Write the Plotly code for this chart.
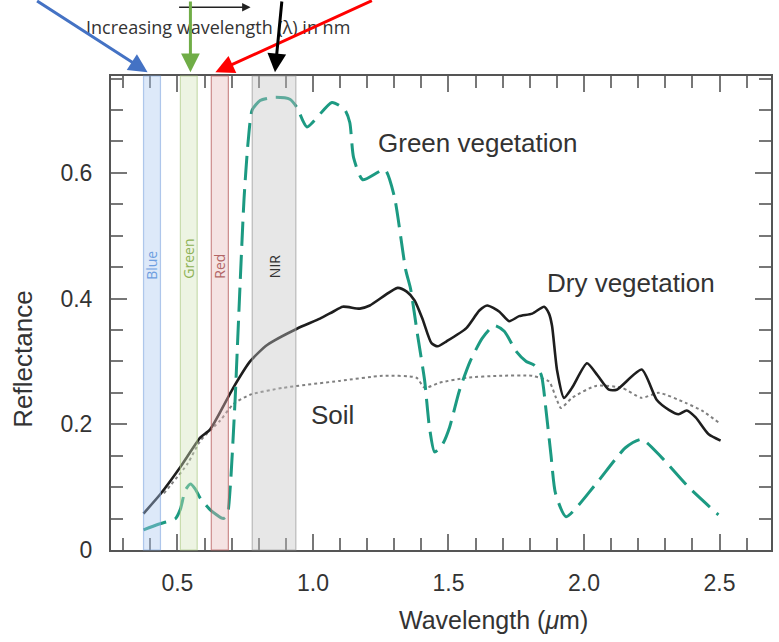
import plotly.graph_objects as go

# ---- data ----
green_x = [0.375, 0.430, 0.493, 0.511, 0.529, 0.548, 0.566, 0.585, 0.621, 0.669, 0.684,
           0.695, 0.713, 0.721, 0.732, 0.746, 0.761, 0.776, 0.805, 0.860, 0.915, 0.941,
           0.978, 1.070, 1.118, 1.136, 1.150, 1.184, 1.265, 1.300, 1.342, 1.360, 1.386,
           1.412, 1.430, 1.449, 1.478, 1.504, 1.540, 1.580, 1.625, 1.669, 1.706, 1.750,
           1.787, 1.816, 1.842, 1.860, 1.878, 1.895, 1.934, 2.044, 2.154, 2.213, 2.287,
           2.386, 2.496]
green_y = [0.032, 0.041, 0.050, 0.065, 0.095, 0.105, 0.097, 0.082, 0.064, 0.050, 0.056,
           0.100, 0.240, 0.320, 0.430, 0.560, 0.650, 0.700, 0.715, 0.720, 0.717, 0.704,
           0.673, 0.712, 0.700, 0.680, 0.624, 0.589, 0.605, 0.563, 0.446, 0.416, 0.342,
           0.270, 0.195, 0.156, 0.168, 0.195, 0.253, 0.300, 0.337, 0.357, 0.348, 0.316,
           0.300, 0.294, 0.279, 0.222, 0.152, 0.090, 0.053, 0.105, 0.163, 0.176, 0.147,
           0.100, 0.056]

dry_x = [0.375, 0.4375, 0.511, 0.585, 0.621, 0.706, 0.768, 0.831, 0.941, 1.026, 1.074,
         1.110, 1.173, 1.210, 1.3125, 1.346, 1.375, 1.404, 1.4375, 1.460, 1.493, 1.566,
         1.614, 1.643, 1.688, 1.724, 1.761, 1.809, 1.853, 1.871, 1.882, 1.901, 1.926,
         1.956, 2.011, 2.048, 2.092, 2.121, 2.213, 2.268, 2.313, 2.349, 2.379, 2.412,
         2.460, 2.504]
dry_y = [0.058, 0.089, 0.132, 0.179, 0.192, 0.258, 0.300, 0.326, 0.352, 0.368, 0.379,
         0.387, 0.384, 0.389, 0.417, 0.411, 0.397, 0.368, 0.329, 0.324, 0.332, 0.353,
         0.381, 0.389, 0.379, 0.364, 0.372, 0.376, 0.387, 0.376, 0.357, 0.285, 0.242,
         0.258, 0.297, 0.279, 0.255, 0.255, 0.287, 0.239, 0.223, 0.216, 0.222, 0.211,
         0.184, 0.174]

soil_x = [0.450, 0.537, 0.585, 0.658, 0.706, 0.768, 0.890, 1.099, 1.257, 1.382, 1.412,
          1.467, 1.566, 1.688, 1.809, 1.871, 1.897, 1.915, 1.956, 2.044, 2.140, 2.213,
          2.276, 2.375, 2.434, 2.496]
soil_y = [0.090, 0.137, 0.174, 0.206, 0.232, 0.247, 0.258, 0.269, 0.277, 0.274, 0.258,
          0.266, 0.274, 0.277, 0.277, 0.268, 0.242, 0.226, 0.242, 0.261, 0.258, 0.242,
          0.250, 0.234, 0.222, 0.203]

band_names = ["Blue", "Green", "Red", "NIR"]
band_start = [0.375, 0.511, 0.625, 0.776]
band_end = [0.4375, 0.573, 0.688, 0.937]

x_ticks = [0.5, 1.0, 1.5, 2.0, 2.5]
y_ticks = [0, 0.2, 0.4, 0.6]

# ---- styles ----
band_fill = ["rgba(170,200,240,0.40)", "rgba(210,228,185,0.40)",
             "rgba(230,185,185,0.40)", "rgba(195,195,195,0.40)"]
band_line = ["rgba(120,160,220,0.55)", "rgba(170,200,130,0.6)",
             "rgba(185,95,95,0.7)", "rgba(150,150,150,0.6)"]
band_text = ["#6d9ee0", "#8db256", "#b36666", "#333333"]
band_label_y = [0.452, 0.463, 0.452, 0.45]

fig = go.Figure()

fig.add_trace(go.Scatter(x=soil_x, y=soil_y, mode="lines", line_shape="spline",
                         line=dict(color="#808080", width=2, dash="dot", smoothing=0.6),
                         showlegend=False, hoverinfo="skip"))
fig.add_trace(go.Scatter(x=dry_x, y=dry_y, mode="lines", line_shape="spline",
                         line=dict(color="#1e1e1e", width=2.6, smoothing=0.6),
                         showlegend=False, hoverinfo="skip"))
fig.add_trace(go.Scatter(x=green_x, y=green_y, mode="lines", line_shape="spline",
                         line=dict(color="#1c9a82", width=3, dash="24px,9px", smoothing=0.6),
                         showlegend=False, hoverinfo="skip"))

for i, name in enumerate(band_names):
    fig.add_shape(type="rect", xref="x", yref="paper", x0=band_start[i], x1=band_end[i],
                  y0=0, y1=1, fillcolor=band_fill[i],
                  line=dict(color=band_line[i], width=1.2), layer="above")
    fig.add_annotation(x=(band_start[i] + band_end[i]) / 2, y=band_label_y[i],
                       xref="x", yref="y", text=name, showarrow=False, textangle=-90,
                       xanchor="center", yanchor="middle",
                       font=dict(family="Open Sans", size=14, color=band_text[i]))

label_font = dict(family="Liberation Sans", size=26, color="#333333")
for tx, ty, tt in [(1.607, 0.648, "Green vegetation"), (2.173, 0.425, "Dry vegetation"),
                   (1.074, 0.214, "Soil")]:
    fig.add_annotation(x=tx, y=ty, text=tt, showarrow=False, font=label_font,
                       xanchor="center", yanchor="middle")

# axis titles
fig.add_annotation(xref="paper", yref="paper", x=0.58, y=-0.148,
                   text="Wavelength (<i>μ</i>m)", showarrow=False,
                   xanchor="center", yanchor="middle",
                   font=dict(family="Liberation Sans", size=25, color="#333333"))
fig.add_annotation(xref="paper", yref="paper", x=-0.133, y=0.402,
                   text="Reflectance", showarrow=False, textangle=-90,
                   xanchor="center", yanchor="middle",
                   font=dict(family="Liberation Sans", size=26, color="#333333"))

# top caption and arrows
fig.add_annotation(xref="x", yref="paper", x=0.65, y=1.103,
                   text="Increasing wavelength (λ) in nm", showarrow=False,
                   xanchor="center", yanchor="middle",
                   font=dict(family="Open Sans", size=18, color="#333333"))
fig.add_annotation(xref="x", yref="paper", x=0.77, y=1.145, ax=-73, ay=0,
                   text="", showarrow=True, arrowhead=2, arrowsize=1.3,
                   arrowwidth=1.3, arrowcolor="#222222")
arrow_x = [0.39, 0.548, 0.64, 0.86]
arrow_ax = [-112, 0, 158, 7]
arrow_col = ["#4472c4", "#70ad47", "#ff0000", "#000000"]
for i in range(4):
    fig.add_annotation(xref="x", yref="paper", x=arrow_x[i], y=1.008,
                       ax=arrow_ax[i], ay=-80, text="", showarrow=True,
                       arrowhead=2, arrowsize=1.25, arrowwidth=3,
                       arrowcolor=arrow_col[i])

axis_common = dict(showline=True, linecolor="#555555", linewidth=2, mirror="allticks",
                   ticks="inside", tickcolor="#777777", tickwidth=2, ticklen=16,
                   showgrid=False, zeroline=False,
                   tickfont=dict(family="Liberation Sans", size=23, color="#333333"))

fig.update_xaxes(range=[0.255, 2.69], tickvals=x_ticks, tickformat=".1f",
                 ticklabelstandoff=11,
                 minor=dict(dtick=0.1, tick0=0, ticks="inside", ticklen=12,
                            tickcolor="#777777", tickwidth=2),
                 **axis_common)
fig.update_yaxes(range=[0.0, 0.754], tickvals=y_ticks, ticklabelstandoff=12,
                 minor=dict(dtick=0.05, tick0=0, ticks="inside", ticklen=12,
                            tickcolor="#777777", tickwidth=2),
                 **axis_common)

fig.update_layout(width=779, height=642, plot_bgcolor="white", paper_bgcolor="white",
                  margin=dict(l=111, r=6, t=76, b=92), showlegend=False)

fig.write_html("out.html", config={"displayModeBar": False},
               post_script="document.body.style.margin='0';")
